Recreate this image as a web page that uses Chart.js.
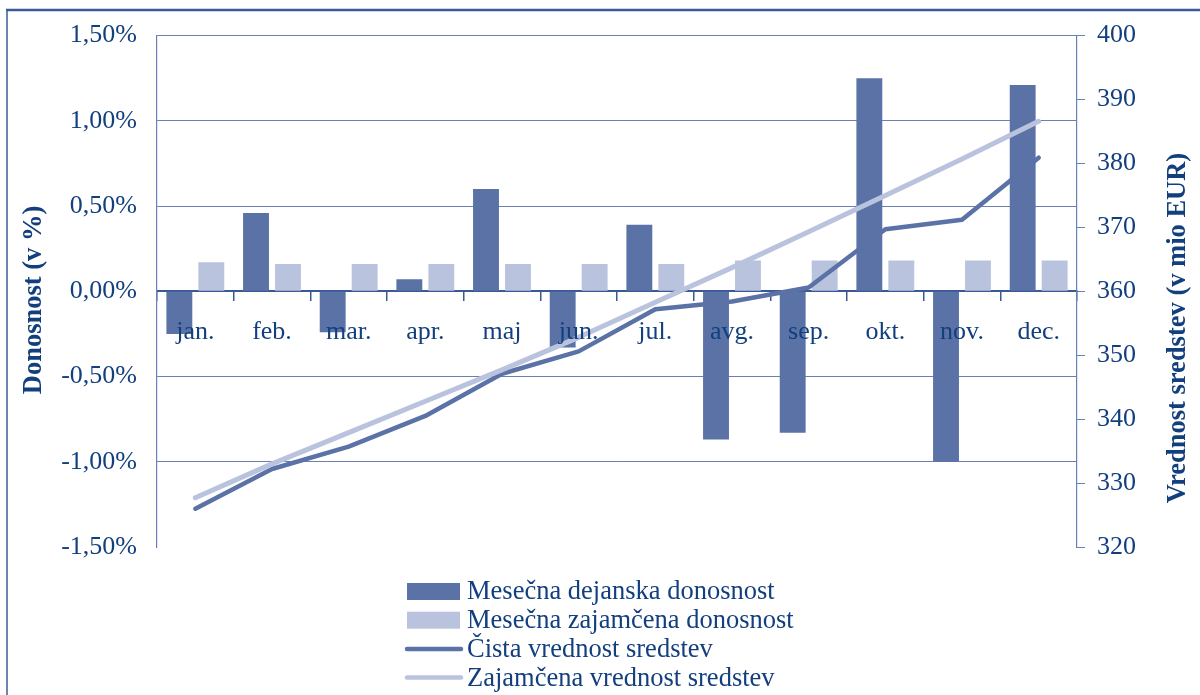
<!DOCTYPE html>
<html>
<head>
<meta charset="utf-8">
<script src="https://cdn.jsdelivr.net/npm/chart.js@4.4.1/dist/chart.umd.min.js"></script>
<style>
html,body{margin:0;padding:0;background:#fff;}
#wrap{position:relative;width:1200px;height:695px;}
</style>
</head>
<body>
<div id="wrap"><canvas id="c" width="1200" height="695"></canvas></div>
<script>
// ---- DATA ----
const categories = ['jan.', 'feb.', 'mar.', 'apr.', 'maj', 'jun.', 'jul.', 'avg.', 'sep.', 'okt.', 'nov.', 'dec.'];
const actualReturn = [-0.25, 0.46, -0.24, 0.07, 0.60, -0.33, 0.39, -0.87, -0.83, 1.25, -1.00, 1.21];      // %
const guaranteedReturn = [0.17, 0.16, 0.16, 0.16, 0.16, 0.16, 0.16, 0.18, 0.18, 0.18, 0.18, 0.18];      // %
const netAssetValue = [326.0, 332.2, 335.7, 340.5, 347.1, 350.6, 357.2, 358.4, 360.6, 369.7, 371.2, 380.9]; // mio EUR
const guaranteedAssetValue = [327.7, 333.0, 337.9, 342.8, 347.7, 352.8, 358.3, 363.7, 369.3, 375.0, 380.7, 386.6];
const seriesNames = ['Mesečna dejanska donosnost', 'Mesečna zajamčena donosnost', 'Čista vrednost sredstev', 'Zajamčena vrednost sredstev'];
const leftAxisTitle = 'Donosnost (v %)';
const rightAxisTitle = 'Vrednost sredstev (v mio EUR)';
const leftTickRange = [-1.5, 1.5, 0.5];
const rightTickRange = [320, 400, 10];

// ---- STYLE ----
const FONT = '"Liberation Serif", "Times New Roman", serif';
const TEXT = '#123f7e';
const DARK = '#5b72a6';
const LIGHT = '#bac3dd';
const GRID = '#6a7fb4';
const AXIS = '#3b5897';

const fmtPct = v => v.toFixed(2).replace('.', ',') + '%';

const framePlugin = {
  id: 'frame',
  beforeDraw(chart) {
    const ctx = chart.ctx;
    ctx.save();
    ctx.fillStyle = '#fff';
    ctx.fillRect(0, 0, chart.width, chart.height);
    ctx.strokeStyle = '#3d5a98';
    ctx.lineWidth = 2.5;
    ctx.beginPath();
    ctx.moveTo(6, 10); ctx.lineTo(chart.width, 10);
    ctx.stroke();
    ctx.lineWidth = 1.5;
    ctx.beginPath();
    ctx.moveTo(7, 10); ctx.lineTo(7, chart.height);
    ctx.stroke();
    ctx.restore();
  }
};

const titlesPlugin = {
  id: 'axisTitles',
  afterDraw(chart) {
    const ctx = chart.ctx;
    ctx.save();
    ctx.fillStyle = TEXT;
    ctx.font = 'bold 26.5px ' + FONT;
    ctx.textAlign = 'center';
    ctx.textBaseline = 'middle';
    ctx.save();
    ctx.translate(34, 300);
    ctx.rotate(-Math.PI / 2);
    ctx.fillText(leftAxisTitle, 0, 0);
    ctx.restore();
    ctx.save();
    ctx.translate(1178, 328);
    ctx.rotate(-Math.PI / 2);
    ctx.fillText(rightAxisTitle, 0, 0);
    ctx.restore();
    ctx.restore();
  }
};

const legendPlugin = {
  id: 'customLegend',
  afterDraw(chart) {
    const ctx = chart.ctx;
    const ds = chart.data.datasets;
    ctx.save();
    ctx.font = '26.5px ' + FONT;
    ctx.textBaseline = 'middle';
    ctx.textAlign = 'left';
    ds.forEach((d, i) => {
      const cy = 591.5 + i * 28.7;
      if (d.type === 'bar') {
        ctx.fillStyle = d.backgroundColor;
        ctx.fillRect(407, cy - 8.5, 53, 17);
      } else {
        ctx.strokeStyle = d.borderColor;
        ctx.lineWidth = 4.5;
        ctx.lineCap = 'round';
        ctx.beginPath();
        ctx.moveTo(407, cy); ctx.lineTo(461, cy);
        ctx.stroke();
      }
      ctx.fillStyle = TEXT;
      ctx.fillText(d.label, 467, cy + 1);
    });
    ctx.restore();
  }
};

new Chart(document.getElementById('c'), {
  data: {
    labels: categories,
    datasets: [
      { type: 'bar', label: seriesNames[0], data: actualReturn, yAxisID: 'y', backgroundColor: DARK, order: 2,
        categoryPercentage: 0.834, barPercentage: 0.81 },
      { type: 'bar', label: seriesNames[1], data: guaranteedReturn, yAxisID: 'y', backgroundColor: LIGHT, order: 2,
        categoryPercentage: 0.834, barPercentage: 0.81 },
      { type: 'line', label: seriesNames[2], data: netAssetValue, yAxisID: 'y2', borderColor: DARK, borderWidth: 4.5,
        pointRadius: 0, tension: 0, borderCapStyle: 'round', borderJoinStyle: 'round', order: 1 },
      { type: 'line', label: seriesNames[3], data: guaranteedAssetValue, yAxisID: 'y2', borderColor: LIGHT, borderWidth: 5,
        pointRadius: 0, tension: 0, borderCapStyle: 'round', borderJoinStyle: 'round', order: 0 }
    ]
  },
  options: {
    responsive: false,
    animation: false,
    devicePixelRatio: 1,
    layout: { padding: { top: 33, bottom: 148, left: 0, right: 0 } },
    plugins: { legend: { display: false }, tooltip: { enabled: false } },
    scales: {
      x: {
        type: 'category',
        position: { y: 0 },
        offset: true,
        grid: { display: true, drawOnChartArea: false, drawTicks: true, tickLength: 9, color: AXIS, lineWidth: 1.5, offset: true },
        border: { display: true, color: AXIS, width: 2 },
        ticks: { z: 1, color: TEXT, font: { family: FONT, size: 26 }, padding: 16, maxRotation: 0, autoSkip: false }
      },
      y: {
        position: 'left',
        min: leftTickRange[0], max: leftTickRange[1],
        ticks: { stepSize: leftTickRange[2], color: TEXT, font: { family: FONT, size: 26 }, padding: 20,
                 callback: v => fmtPct(v) },
        grid: { drawTicks: false, color: c => (c.tick && Math.abs(c.tick.value - leftTickRange[0]) < 1e-9) ? 'rgba(0,0,0,0)' : GRID, lineWidth: 1 },
        border: { display: true, color: GRID, width: 1.2 },
        afterFit: s => { s.width = 157; }
      },
      y2: {
        position: 'right',
        min: rightTickRange[0], max: rightTickRange[1],
        ticks: { stepSize: rightTickRange[2], color: TEXT, font: { family: FONT, size: 26 }, padding: 12 },
        grid: { drawOnChartArea: false, drawTicks: true, tickLength: 8, color: GRID, lineWidth: 1 },
        border: { display: true, color: GRID, width: 1.2 },
        afterFit: s => { s.width = 123; }
      }
    }
  },
  plugins: [framePlugin, titlesPlugin, legendPlugin]
});
</script>
</body>
</html>
